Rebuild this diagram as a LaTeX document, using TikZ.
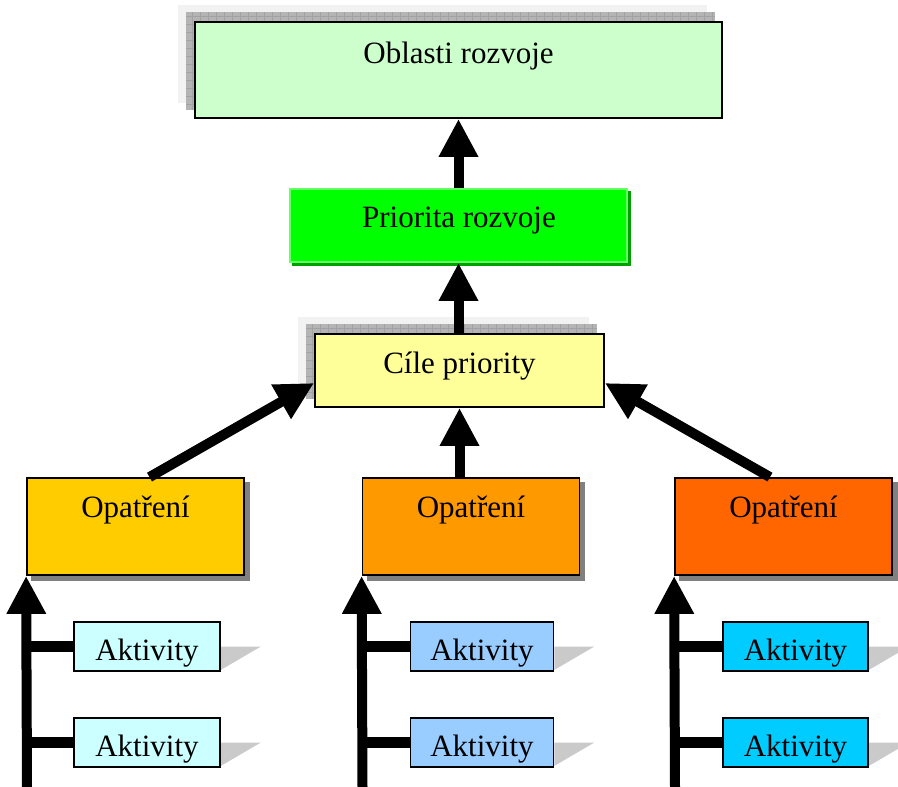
\documentclass[tikz,border=0pt]{standalone}
\usepackage{fontspec}
\setmainfont{Liberation Serif}
\usetikzlibrary{arrows.meta,backgrounds}

\definecolor{oblastfill}{HTML}{CCFFCC}
\definecolor{prioritafill}{HTML}{00FF00}
\definecolor{prioritaedge}{HTML}{66FF66}
\definecolor{prioritashade}{HTML}{00A000}
\definecolor{cilefill}{HTML}{FFFF99}
\definecolor{opatfillA}{HTML}{FFCC00}
\definecolor{opatfillB}{HTML}{FF9900}
\definecolor{opatfillC}{HTML}{FF6600}
\definecolor{aktfillA}{HTML}{CCFFFF}
\definecolor{aktfillB}{HTML}{99CCFF}
\definecolor{aktfillC}{HTML}{00CCFF}
\definecolor{shadelight}{HTML}{F2F2F2}
\definecolor{shadedark}{HTML}{B4B4B4}
\definecolor{shadegrid}{HTML}{A2A2A2}

\tikzset{
  box/.style={rectangle, draw=black, line width=1.8pt, inner sep=0pt},
  lbl/.style={anchor=base, inner sep=0pt, font=\fontsize{31}{36}\selectfont},
  flow/.style={line width=10pt, -{Triangle[width=37pt,length=38pt]}},
  branch/.style={line width=11pt},
  shadegridline/.style={draw=shadegrid, line width=0.4pt, step=8pt},
}

\begin{document}
\begin{tikzpicture}[x=1pt,y=-1pt]
\useasboundingbox (0,0) rectangle (898,787);

% boxes
\node[box, fill=oblastfill, minimum width=527pt, minimum height=96pt] (oblasti) at (458.5,70) {};
\node[box, draw=prioritaedge, fill=prioritafill, minimum width=337pt, minimum height=73pt] (priorita) at (458.5,225.5) {};
\node[box, fill=cilefill, minimum width=289pt, minimum height=73pt] (cile) at (459.5,370.5) {};

\node[box, fill=opatfillA, minimum width=217pt, minimum height=97pt] (opat1) at (135.5,526.5) {};
\node[box, fill=opatfillB, minimum width=217pt, minimum height=97pt] (opat2) at (471,526.5) {};
\node[box, fill=opatfillC, minimum width=217pt, minimum height=97pt] (opat3) at (783.5,526.5) {};

\node[box, fill=aktfillA, minimum width=146pt, minimum height=49pt] (akt11) at (147,646.5) {};
\node[box, fill=aktfillA, minimum width=146pt, minimum height=49pt] (akt12) at (147,742.5) {};
\node[box, fill=aktfillB, minimum width=143pt, minimum height=49pt] (akt21) at (482,646.5) {};
\node[box, fill=aktfillB, minimum width=143pt, minimum height=49pt] (akt22) at (482,742.5) {};
\node[box, fill=aktfillC, minimum width=145pt, minimum height=49pt] (akt31) at (795.5,646.5) {};
\node[box, fill=aktfillC, minimum width=145pt, minimum height=49pt] (akt32) at (795.5,742.5) {};

% texts
\node[lbl] (oblastitext) at (458.5,63) {Oblasti rozvoje};
\node[lbl] (prioritatext) at (459,227) {Priorita rozvoje};
\node[lbl] (ciletext) at (459.5,373) {Cíle priority};
\node[lbl] (opat1text) at (135.5,517) {Opatření};
\node[lbl] (opat2text) at (471,517) {Opatření};
\node[lbl] (opat3text) at (783.5,517) {Opatření};
\foreach \a in {akt11,akt12,akt21,akt22,akt31,akt32}
  \node[lbl] at ([yshift=-13.5pt]\a.center) {Aktivity};

% shadows
\begin{scope}[on background layer]
  \foreach \b in {oblasti,cile}{
    \fill[shadelight] ([shift={(-16,-16)}]\b.south west) rectangle ([shift={(-16,-16)}]\b.north east);
    \fill[shadedark] ([shift={(-8,-9)}]\b.south west) rectangle ([shift={(-8,-9)}]\b.north east);
    \begin{scope}
      \clip ([shift={(-8,-9)}]\b.south west) rectangle ([shift={(-8,-9)}]\b.north east);
      \draw[shadegridline] ([shift={(-8,-9)}]\b.south west) grid ([shift={(-8,-9)}]\b.north east);
    \end{scope}
  }
  \fill[prioritashade] ([shift={(3,3)}]priorita.south west) rectangle ([shift={(3,3)}]priorita.north east);
  \foreach \o in {opat1,opat2,opat3}
    \fill[black!50] ([shift={(5,5)}]\o.south west) rectangle ([shift={(5,5)}]\o.north east);
  \foreach \a in {akt11,akt12,akt21,akt22,akt31,akt32}{
    \fill[shadedark!70] (\a.east) -- ++(40,0) -- ([yshift=2pt]\a.south east) -- cycle;
  }
\end{scope}

% connectors
\draw[flow] (priorita.north) -- (oblasti.south);
\draw[flow] (cile.north -| priorita.south) -- (priorita.south);
\draw[flow] (opat2.north -| cile.south) -- (cile.south);
\draw[flow] ([xshift=14pt]opat1.north) -- ([yshift=-12.5pt]cile.west);
\draw[flow] ([xshift=-13.5pt]opat3.north) -- ([yshift=-12.5pt]cile.east);

\coordinate (base1) at (27,787);
\coordinate (base2) at (362.5,787);
\coordinate (base3) at (675,787);
\draw[flow] (base1) -- (opat1.south west);
\draw[flow] (base2) -- (opat2.south west);
\draw[flow] (base3) -- (opat3.south west);

\draw[branch] (akt11.west -| base1) -- (akt11.west);
\draw[branch] (akt12.west -| base1) -- (akt12.west);
\draw[branch] (akt21.west -| base2) -- (akt21.west);
\draw[branch] (akt22.west -| base2) -- (akt22.west);
\draw[branch] (akt31.west -| base3) -- (akt31.west);
\draw[branch] (akt32.west -| base3) -- (akt32.west);
\end{tikzpicture}
\end{document}
